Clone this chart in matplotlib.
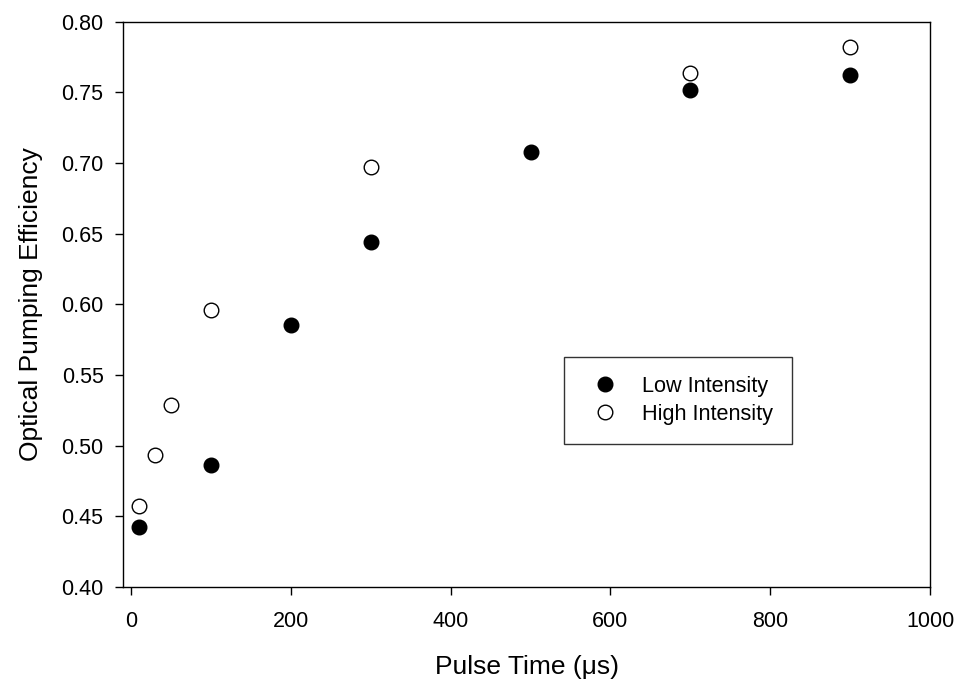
import matplotlib
matplotlib.use('Agg')
import matplotlib.pyplot as plt

plt.rcParams['font.family'] = ['Liberation Sans', 'DejaVu Sans']

# pulse time (us) and optical pumping efficiency
low_time = [10, 100, 200, 300, 500, 700, 900]
low_eff = [0.4425, 0.4863, 0.5855, 0.6440, 0.7077, 0.7516, 0.7622]

high_time = [10, 30, 50, 100, 300, 700, 900]
high_eff = [0.4572, 0.4934, 0.5288, 0.5960, 0.6970, 0.7636, 0.7820]

x_ticks = [0, 200, 400, 600, 800, 1000]
y_ticks = [0.40, 0.45, 0.50, 0.55, 0.60, 0.65, 0.70, 0.75, 0.80]


def main():
    fig = plt.figure(figsize=(9.59, 6.85), dpi=100)
    ax = fig.add_axes([0.1283, 0.1431, 0.8415, 0.8255])

    ax.plot(low_time, low_eff, 'o', color='black', markersize=10.5,
            linestyle='none', label='Low Intensity')
    ax.plot(high_time, high_eff, 'o', markerfacecolor='white',
            markeredgecolor='black', markeredgewidth=1.0, markersize=10.5,
            linestyle='none', label='High Intensity')

    ax.set_xlim(-10, 1000)
    ax.set_ylim(0.40, 0.80)
    ax.set_xticks(x_ticks)
    ax.set_yticks(y_ticks)
    ax.set_yticklabels([f'{v:.2f}' for v in y_ticks])

    for s in ax.spines.values():
        s.set_linewidth(1.0)
    ax.tick_params(direction='out', length=6, width=1.0, labelsize=15.5)
    ax.tick_params(axis='y', pad=8)
    ax.tick_params(axis='x', pad=11)

    ax.set_xlabel('Pulse Time (\u03bcs)', fontsize=19, labelpad=17)
    ax.set_ylabel('Optical Pumping Efficiency', fontsize=19, labelpad=13)

    leg = ax.legend(loc='upper left', bbox_to_anchor=(0.5465, 0.4067),
                    fontsize=15.6, frameon=True, fancybox=False,
                    handlelength=2.0, handletextpad=0.72, borderpad=0.87,
                    labelspacing=0.32, borderaxespad=0, numpoints=1)
    leg.get_frame().set_edgecolor('black')
    leg.get_frame().set_linewidth(1.0)

    fig.savefig('out.png', dpi=100)


if __name__ == '__main__':
    main()
